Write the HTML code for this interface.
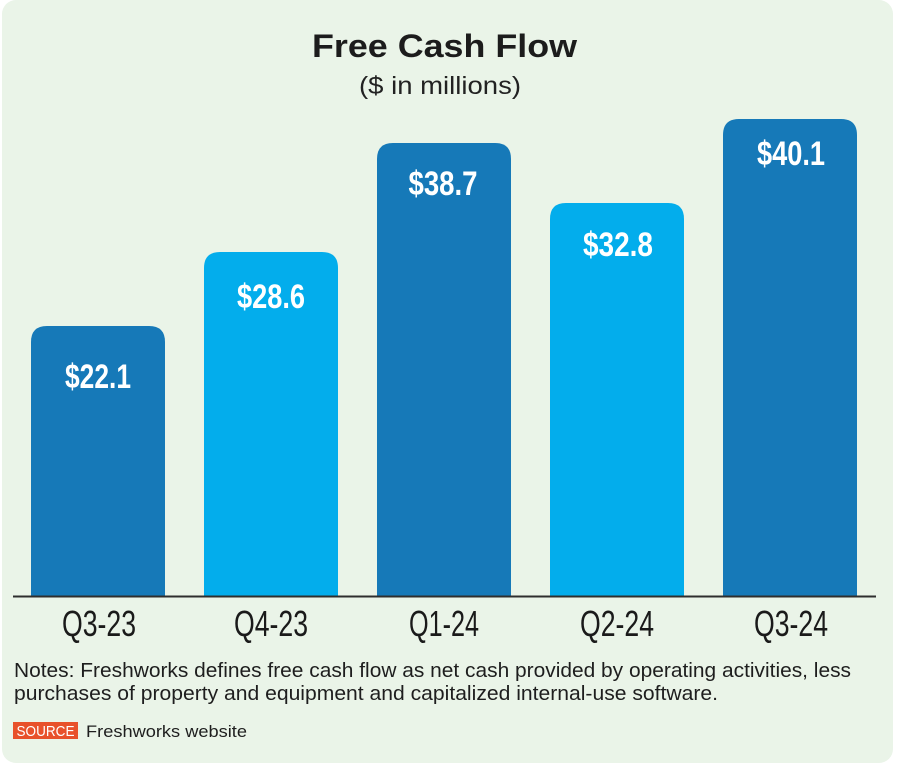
<!DOCTYPE html>
<html>
<head>
<meta charset="utf-8">
<style>
  html, body { margin: 0; padding: 0; background: #ffffff; }
  svg { display: block; }
  text { font-family: "Liberation Sans", "DejaVu Sans", sans-serif; }
</style>
</head>
<body>
<svg width="900" height="769" viewBox="0 0 900 769" xmlns="http://www.w3.org/2000/svg">
  <rect x="0" y="0" width="900" height="769" fill="#ffffff"/>
  <rect x="2" y="0" width="891" height="763" rx="14" ry="14" fill="#eaf4e8"/>

  <!-- Title -->
  <text x="444.5" y="57" text-anchor="middle" font-size="32" font-weight="bold" fill="#1c1c1c" textLength="265" lengthAdjust="spacingAndGlyphs">Free Cash Flow</text>
  <text x="440" y="94" text-anchor="middle" font-size="25" fill="#222222" textLength="162" lengthAdjust="spacingAndGlyphs">($ in millions)</text>

  <!-- Bars -->
  <path d="M31,596 L31,342 Q31,326 47,326 L149,326 Q165,326 165,342 L165,596 Z" fill="#1679b8"/>
  <path d="M204,596 L204,268 Q204,252 220,252 L322,252 Q338,252 338,268 L338,596 Z" fill="#03adec"/>
  <path d="M377,596 L377,159 Q377,143 393,143 L495,143 Q511,143 511,159 L511,596 Z" fill="#1679b8"/>
  <path d="M550,596 L550,219 Q550,203 566,203 L668,203 Q684,203 684,219 L684,596 Z" fill="#03adec"/>
  <path d="M723,596 L723,135 Q723,119 739,119 L841,119 Q857,119 857,135 L857,596 Z" fill="#1679b8"/>

  <!-- Value labels -->
  <g font-size="34" font-weight="bold" fill="#ffffff" text-anchor="middle">
    <text x="98" y="388" textLength="66" lengthAdjust="spacingAndGlyphs">$22.1</text>
    <text x="271" y="308" textLength="68" lengthAdjust="spacingAndGlyphs">$28.6</text>
    <text x="443" y="195" textLength="69" lengthAdjust="spacingAndGlyphs">$38.7</text>
    <text x="618" y="256" textLength="70" lengthAdjust="spacingAndGlyphs">$32.8</text>
    <text x="791" y="165" textLength="68" lengthAdjust="spacingAndGlyphs">$40.1</text>
  </g>

  <!-- Axis line -->
  <line x1="13" y1="596.5" x2="876" y2="596.5" stroke="#2e2e2e" stroke-width="2"/>

  <!-- Category labels -->
  <g font-size="36" fill="#1a1a1a" text-anchor="middle">
    <text x="99" y="636" textLength="74" lengthAdjust="spacingAndGlyphs">Q3-23</text>
    <text x="271" y="636" textLength="74" lengthAdjust="spacingAndGlyphs">Q4-23</text>
    <text x="444" y="636" textLength="70" lengthAdjust="spacingAndGlyphs">Q1-24</text>
    <text x="617" y="636" textLength="74" lengthAdjust="spacingAndGlyphs">Q2-24</text>
    <text x="791" y="636" textLength="74" lengthAdjust="spacingAndGlyphs">Q3-24</text>
  </g>

  <!-- Notes -->
  <g font-size="20" fill="#1e1e1e">
    <text x="14" y="677" textLength="837" lengthAdjust="spacingAndGlyphs">Notes: Freshworks defines free cash flow as net cash provided by operating activities, less</text>
    <text x="14" y="700" textLength="704" lengthAdjust="spacingAndGlyphs">purchases of property and equipment and capitalized internal-use software.</text>
  </g>

  <!-- Source -->
  <rect x="13" y="722" width="65" height="17" fill="#e8512b"/>
  <text x="45.5" y="736" text-anchor="middle" font-size="15" fill="#ffffff" textLength="58" lengthAdjust="spacingAndGlyphs">SOURCE</text>
  <text x="86" y="737" font-size="17" fill="#1e1e1e" textLength="161" lengthAdjust="spacingAndGlyphs">Freshworks website</text>
</svg>
</body>
</html>
